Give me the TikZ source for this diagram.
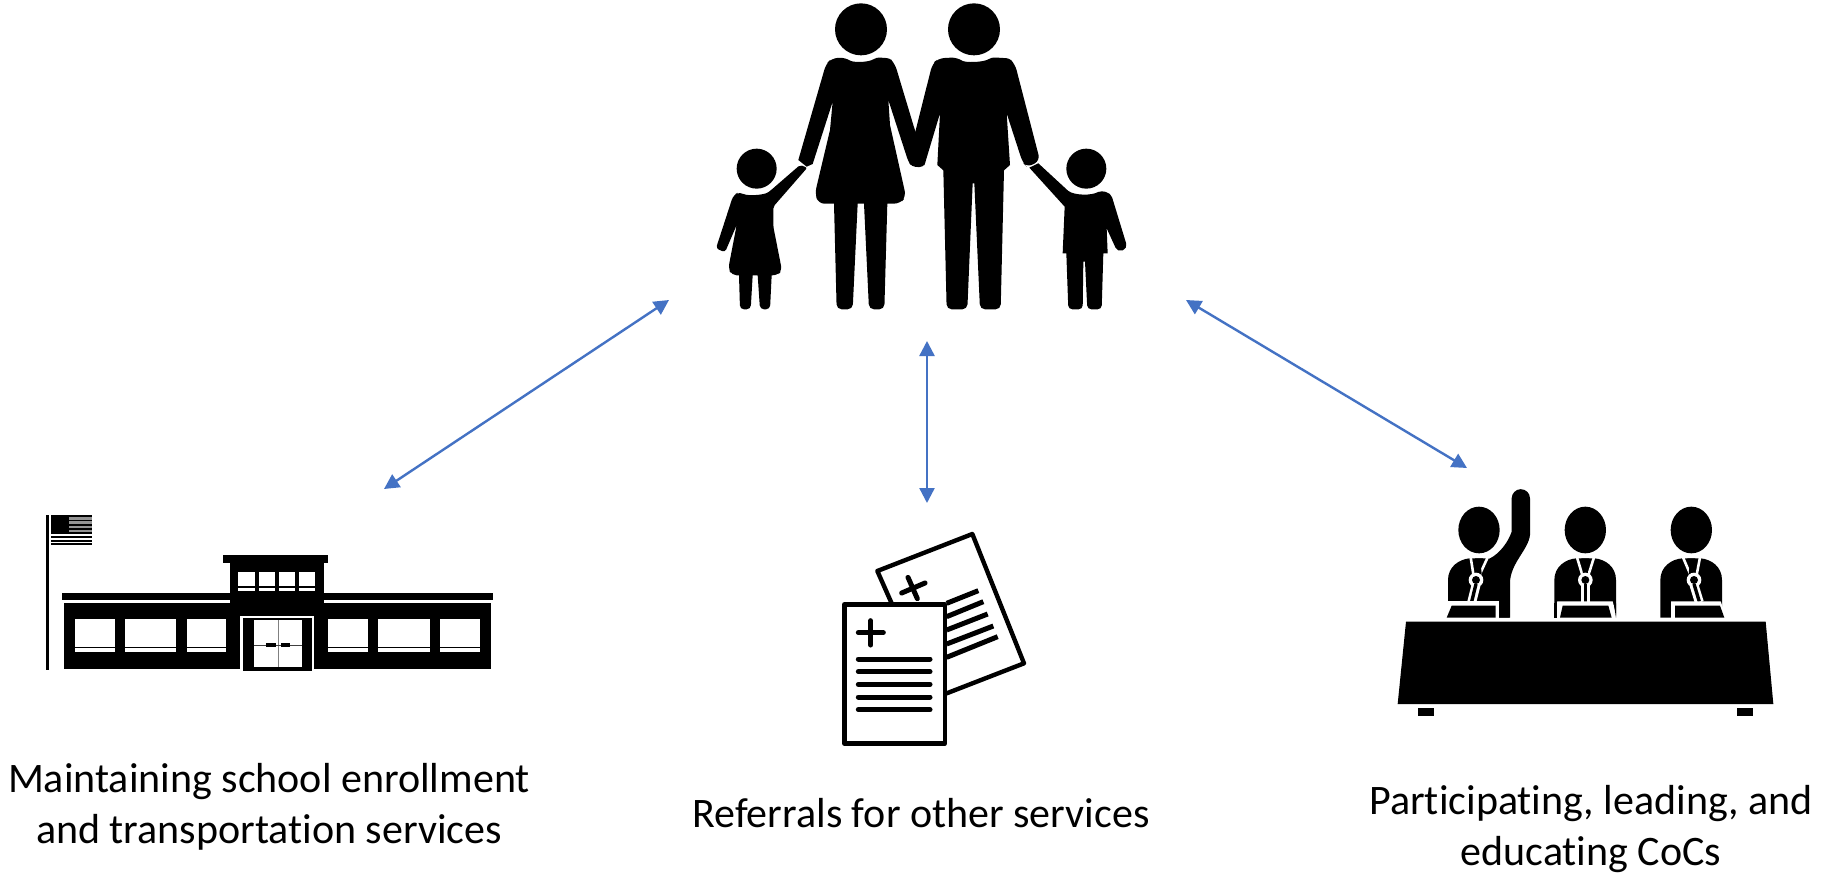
\documentclass[tikz,border=0pt]{standalone}
\usepackage{fontspec}
\setmainfont[RawFeature={-liga;-clig}]{Carlito}
\definecolor{arrowblue}{HTML}{4472C4}
\usetikzlibrary{arrows.meta}
\tikzset{
  zoomed/.style={x=0.33333pt,y=-0.33333pt},
  link/.style={arrowblue,line width=2.4pt,{Triangle[length=15pt,width=15pt]}-{Triangle[length=15pt,width=15pt]}},
  caption/.style={align=center,font=\fontsize{42}{51}\selectfont,inner sep=0pt,text=black},
  sheet/.style={line width=4.4pt,line join=round,line cap=round},
  strip/.style={line width=5pt,line cap=round},
}
\newcommand{\panelist}[3]{% x centre, mic x, stem-bottom x
  \fill[black] (#1,180) ellipse (62 and 70);
  \fill[black] (#1-93,443) -- (#1-93,330) .. controls (#1-93,290) and (#1-60,268) .. (#1-28,265) -- (#1+28,265) .. controls (#1+60,268) and (#1+92,290) .. (#1+92,330) -- (#1+92,443) -- cycle;
  \draw[white,line width=2.6pt] (#1-25,262) -- (#2-6,325) (#1+26,262) -- (#2+6,325);
  \fill[black] (#1-12,265) -- (#1+12,265) -- (#1+5,285) -- (#1+8,310) -- (#1,320) -- (#1-8,310) -- (#1-5,285) -- cycle;
  \fill[white] (#2,330) circle (22);
  \draw[white,line width=9pt] (#2,345) -- (#3,397);
  \fill[black] (#2,330) circle (12);
  \draw[black,line width=3.4pt] (#2,342) -- (#3,395);
}
\begin{document}
\begin{tikzpicture}[x=1pt,y=-1pt]
\useasboundingbox (0,0) rectangle (1824,875);
\fill[white] (0,0) rectangle (1824,875);

% ---------- family
\begin{scope}[shift={(690,0)},zoomed]
  \fill (513,88) circle (78);
  \fill (852,88) circle (78);
  \fill (200,506) circle (60);
  \fill (1189,506) circle (60);
  % woman
  \fill[rounded corners=3pt] (465,172) .. controls (490,188) and (535,188) .. (560,172) -- (600,175) [rounded corners=6pt] -- (615,192) -- (676,395) -- (710,480) [rounded corners=4pt] -- (700,502) -- (665,500) -- (655,485) [rounded corners=0pt] -- (595,300) -- (600,375) [rounded corners=6pt] -- (648,590) -- (630,611) [rounded corners=0pt] -- (592,611) [rounded corners=5pt] -- (583,928) -- (537,928) [rounded corners=0pt] -- (522,611) -- (503,611) [rounded corners=5pt] -- (488,928) -- (440,928) [rounded corners=0pt] -- (432,611) [rounded corners=6pt] -- (385,611) -- (375,580) [rounded corners=0pt] -- (420,390) -- (428,305) -- (368,492) -- (350,500) -- (325,480) [rounded corners=6pt] -- (408,192) -- (425,175) -- cycle;
  % man
  \fill[rounded corners=3pt] (802,172) .. controls (825,188) and (880,188) .. (905,172) -- (958,175) [rounded corners=6pt] -- (975,192) -- (1050,482) -- (1012,502) -- (998,488) [rounded corners=0pt] -- (950,340) -- (960,495) -- (942,511) [rounded corners=5pt] -- (932,928) -- (870,928) [rounded corners=0pt] -- (853,550) -- (848,550) [rounded corners=5pt] -- (832,928) -- (770,928) [rounded corners=0pt] -- (760,511) -- (742,495) -- (750,340) -- (705,490) -- (680,500) -- (665,430) -- (676,395) [rounded corners=6pt] -- (727,192) -- (745,175) -- cycle;
  % girl
  \fill[rounded corners=2pt] (150,575) .. controls (170,587) and (220,587) .. (240,573) -- (330,495) -- (352,503) -- (250,620) -- (250,680) [rounded corners=5pt] -- (276,812) -- (262,826) [rounded corners=0pt] -- (245,826) [rounded corners=4pt] -- (240,928) -- (210,928) [rounded corners=0pt] -- (203,826) -- (188,826) [rounded corners=4pt] -- (182,928) -- (150,928) [rounded corners=0pt] -- (147,826) [rounded corners=5pt] -- (125,826) -- (115,805) [rounded corners=0pt] -- (140,675) [rounded corners=3pt] -- (105,757) -- (78,745) [rounded corners=5pt] -- (130,585) -- cycle;
  % boy
  \fill[rounded corners=2pt] (1135,573) .. controls (1155,587) and (1205,587) .. (1230,573) [rounded corners=5pt] -- (1262,578) -- (1313,745) -- (1283,757) [rounded corners=0pt] -- (1250,685) -- (1253,760) -- (1240,760) [rounded corners=4pt] -- (1235,928) -- (1192,928) [rounded corners=0pt] -- (1185,785) -- (1180,785) [rounded corners=4pt] -- (1178,928) -- (1135,928) [rounded corners=0pt] -- (1129,760) -- (1118,760) -- (1124,620) -- (1018,503) -- (1045,490) -- cycle;
\end{scope}

% ---------- school
\begin{scope}[shift={(20,500)},zoomed]
  \fill (78,45) rectangle (87,510);
  \fill[gray!85] (92,46) rectangle (215,100);
  \fill (92,46) rectangle (148,97);
  \foreach \yy in {46,59,72,85} \fill (148,\yy) rectangle (215,\yy+5);
  \foreach \yy in {97,108,119,130} \fill (92,\yy) rectangle (215,\yy+6);
  \fill (610,165) rectangle (925,188);
  \fill (630,190) rectangle (913,347);
  \fill (125,280) rectangle (1420,301);
  \fill (133,308) rectangle (660,508);
  \fill (883,308) rectangle (1412,508);
  \fill (630,300) rectangle (913,347);
  \fill (668,355) rectangle (876,512);
  \foreach \xx in {655,716,776,836} {
    \fill[white] (\xx,217) rectangle (\xx+50,259);
    \fill[white] (\xx,263) rectangle (\xx+50,272);
  }
  \foreach \xa/\xb in {165/285,316/469,500/619,925/1045,1075/1229,1259/1379} {
    \fill[white] (\xa,358) rectangle (\xb,440);
    \fill[white] (\xa,444) rectangle (\xb,455);
  }
  \fill[white] (703,360) rectangle (845,501);
  \draw[gray,line width=0.8pt] (775,360) -- (775,501);
  \draw[black!75,line width=0.9pt] (703,436) -- (845,436);
  \fill (738,429) rectangle (768,441);
  \fill (783,429) rectangle (811,441);
\end{scope}

% ---------- documents
\begin{scope}[shift={(820,520)},zoomed]
  \draw[sheet] (215,250) -- (172,153) -- (457,42) -- (612,430) -- (380,520);
  \draw[strip] (245,219) -- (315,189) (264,172) -- (292,236);
  \draw[strip,line cap=butt] (380,250) -- (475,212);
  \draw[strip,line cap=butt] (380,290) -- (490,245);
  \draw[strip,line cap=butt] (380,330) -- (503,282);
  \draw[strip,line cap=butt] (380,372) -- (520,318);
  \draw[strip,line cap=butt] (380,412) -- (533,350);
  \draw[sheet] (73,253) rectangle (375,670);
  \draw[strip] (115,338) -- (190,338) (152,302) -- (152,375);
  \foreach \yy in {417,455,493,531,569} \draw[strip] (115,\yy) -- (330,\yy);
\end{scope}

% ---------- panel
\begin{scope}[shift={(1380,470)},zoomed]
  \fill (78,455) -- (1157,455) -- (1180,702) -- (53,702) -- cycle;
  \fill (113,713) rectangle (163,738);
  \fill (1070,713) rectangle (1120,738);
  \panelist{297}{288}{275}
  \panelist{616}{616}{616}
  \panelist{934}{942}{958}
  % raised arm
  \fill (330,265) .. controls (360,250) and (385,215) .. (395,185) -- (395,85) arc (180:360:27.5) -- (450,195) .. controls (445,240) and (390,280) .. (390,340) -- (390,443) -- (330,443) -- cycle;
  % panels in front of the panelists
  \fill[white] (190,394) rectangle (358,445);
  \fill (215,407) -- (347,407) -- (347,443) -- (200,443) -- cycle;
  \fill[white] (532,394) -- (698,394) -- (712,445) -- (520,445) -- cycle;
  \fill (523,400) rectangle (530,443);
  \fill (701,400) -- (708,400) -- (708,443) -- cycle;
  \fill (548,407) -- (685,407) -- (695,443) -- (540,443) -- cycle;
  \fill[white] (873,394) -- (1022,394) -- (1040,445) -- (873,445) -- cycle;
  \fill (885,407) -- (1020,407) -- (1033,443) -- (885,443) -- cycle;
\end{scope}

% ---------- captions
\node[caption] (school) at (269,807) {Maintaining school enrollment\\and transportation services};
\node[caption] (referrals) at (921,813) {Referrals for other services};
\node[caption] (coc) at (1591,829) {Participating, leading, and\\educating CoCs};

% ---------- connectors
\coordinate (famL) at (669,300);
\coordinate (famC) at (927,341);
\coordinate (famR) at (1186,300);
\coordinate (icoL) at (384,489);
\coordinate (icoC) at (927,503);
\coordinate (icoR) at (1467,468);
\draw[link] (famL) -- (icoL);
\draw[link] (famC) -- (icoC);
\draw[link] (famR) -- (icoR);
\end{tikzpicture}
\end{document}
